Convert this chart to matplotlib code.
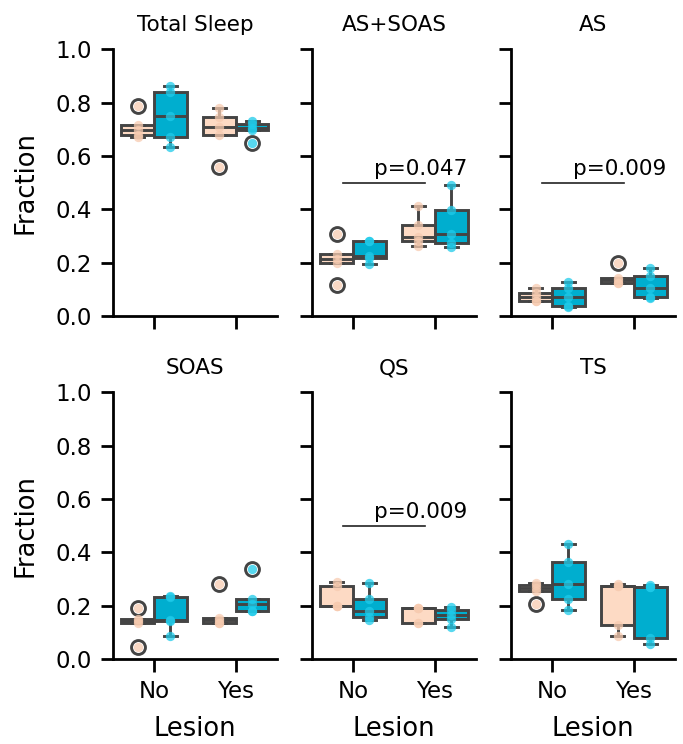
import numpy as np
import matplotlib
matplotlib.use('Agg')
import matplotlib.pyplot as plt

# Groups and panels
panels = ['Total Sleep', 'AS+SOAS', 'AS', 'SOAS', 'QS', 'TS']
lesion = ['No', 'Yes']

# values per panel: [peach No, cyan No, peach Yes, cyan Yes]
total_sleep = [[0.67, 0.68, 0.697, 0.715, 0.787],
               [0.634, 0.672, 0.749, 0.84, 0.862],
               [0.557, 0.679, 0.709, 0.744, 0.778],
               [0.650, 0.697, 0.705, 0.718, 0.730]]
as_soas = [[0.116, 0.200, 0.212, 0.232, 0.307],
           [0.195, 0.218, 0.225, 0.281, 0.283],
           [0.263, 0.281, 0.295, 0.343, 0.413],
           [0.257, 0.272, 0.307, 0.397, 0.491]]
as_ = [[0.055, 0.058, 0.072, 0.085, 0.105],
       [0.035, 0.037, 0.072, 0.107, 0.126],
       [0.125, 0.125, 0.135, 0.141, 0.197],
       [0.068, 0.072, 0.106, 0.151, 0.179]]
soas = [[0.046, 0.137, 0.142, 0.149, 0.190],
        [0.088, 0.142, 0.145, 0.233, 0.237],
        [0.137, 0.137, 0.145, 0.156, 0.281],
        [0.181, 0.181, 0.208, 0.225, 0.337]]
qs = [[0.200, 0.200, 0.200, 0.275, 0.290],
      [0.146, 0.158, 0.181, 0.227, 0.287],
      [0.134, 0.134, 0.190, 0.190, 0.190],
      [0.121, 0.149, 0.167, 0.184, 0.196]]
ts = [[0.206, 0.256, 0.265, 0.277, 0.286],
      [0.186, 0.227, 0.281, 0.364, 0.433],
      [0.086, 0.127, 0.275, 0.275, 0.280],
      [0.055, 0.078, 0.272, 0.272, 0.278]]
all_data = [total_sleep, as_soas, as_, soas, qs, ts]

# significance annotations
pvals = {'AS+SOAS': 'p=0.047', 'AS': 'p=0.009', 'QS': 'p=0.009'}

box_colors = ['#FDDAC4', '#00AECF']
dot_colors = ['#F7CBB0', '#1FCBEA']
gray = '#444444'

fig, axes = plt.subplots(2, 3, figsize=(6.83, 7.44), dpi=100, sharey=True, sharex=True)
fig.subplots_adjust(left=0.1654, right=0.988, top=0.934, bottom=0.114,
                    wspace=0.216, hspace=0.285)

for ax, name, data in zip(axes.flat, panels, all_data):
    positions = [-0.2, 0.2, 0.8, 1.2]
    for i, (vals, pos) in enumerate(zip(data, positions)):
        c = i % 2
        ax.boxplot([vals], positions=[pos], widths=0.4, patch_artist=True,
                   capwidths=[0.16],
                   boxprops=dict(facecolor=box_colors[c], edgecolor=gray, linewidth=2.1),
                   medianprops=dict(color=gray, linewidth=2.1),
                   whiskerprops=dict(color=gray, linewidth=2.1),
                   capprops=dict(color=gray, linewidth=2.1),
                   flierprops=dict(marker='o', markersize=10, markerfacecolor='none',
                                   markeredgecolor=gray, markeredgewidth=2.1),
                   zorder=2)
        ax.scatter(np.full(len(vals), pos), vals, s=45, color=dot_colors[c],
                   alpha=0.75, linewidths=0, zorder=3)
    if name in pvals:
        ax.plot([-0.12, 0.88], [0.5, 0.5], color='#222222', linewidth=1.2)
        ax.text(1.4, 0.512, pvals[name], ha='right', va='bottom', fontsize=15.5)
    ax.set_title(name, fontsize=15.5, pad=13)
    ax.set_xlim(-0.5, 1.5)
    ax.set_ylim(0, 1.0)
    ax.set_yticks([0, 0.2, 0.4, 0.6, 0.8, 1.0])
    ax.set_xticks([0, 1])
    ax.set_xticklabels(lesion)
    for s in ['top', 'right']:
        ax.spines[s].set_visible(False)
    for s in ['left', 'bottom']:
        ax.spines[s].set_linewidth(2)
    ax.tick_params(width=2, length=9, labelsize=16.5, pad=6)

for ax in axes[:, 0]:
    ax.set_ylabel('Fraction', fontsize=18.5, labelpad=12)
for ax in axes[1, :]:
    ax.set_xlabel('Lesion', fontsize=18.5, labelpad=9)

plt.savefig('out.png', dpi=100)
